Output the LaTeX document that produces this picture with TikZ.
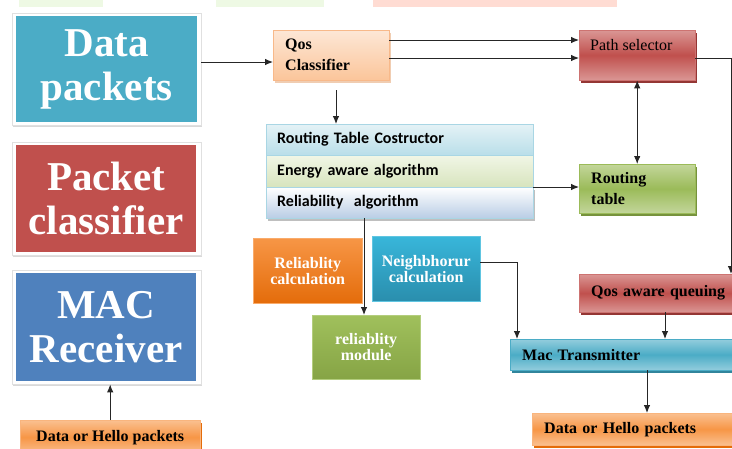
\documentclass[tikz,border=0pt]{standalone}
\usepackage{fontspec}
\setmainfont{Liberation Serif}
\newfontfamily\carl{Carlito}
\usetikzlibrary{shadows,arrows.meta}
\definecolor{tealA}{HTML}{4BACC6}
\definecolor{tealL}{HTML}{93CDDD}
\definecolor{tealD}{HTML}{31859C}
\definecolor{redA}{HTML}{C0504D}
\definecolor{redL}{HTML}{DA9694}
\definecolor{redD}{HTML}{943634}
\definecolor{blueA}{HTML}{4F81BD}
\definecolor{grnA}{HTML}{9BBB59}
\definecolor{grnL}{HTML}{C3D69B}
\definecolor{grnD}{HTML}{76923C}
\definecolor{orgA}{HTML}{F79646}
\definecolor{orgL}{HTML}{FAC090}
\definecolor{orgD}{HTML}{E46C0A}
\definecolor{qcT}{HTML}{FDE7D6}
\definecolor{qcB}{HTML}{FBC59A}
\definecolor{qcE}{HTML}{F8B98A}
\definecolor{qcS}{HTML}{F0CDB2}
\definecolor{nbT}{HTML}{38B6DA}
\definecolor{nbB}{HTML}{2A8EAD}
\definecolor{rmT}{HTML}{A0C05C}
\definecolor{rmB}{HTML}{86A445}
\definecolor{r1T}{HTML}{E4F2F6}
\definecolor{r1B}{HTML}{B9DEE9}
\definecolor{r2T}{HTML}{F1F6E6}
\definecolor{r2B}{HTML}{D7E4BD}
\definecolor{r3B}{HTML}{B9CDE5}
\definecolor{stE}{HTML}{A9D6E4}
\definecolor{lineC}{HTML}{262626}
\definecolor{bandG}{HTML}{EEF9E4}
\definecolor{bandP}{HTML}{FFDCD3}
\begin{document}
\begin{tikzpicture}[x=1pt,y=-1pt,
  frame/.style={draw=black!12, fill=white, anchor=north west, inner sep=0pt,
    drop shadow={opacity=0.3, shadow xshift=1pt, shadow yshift=-2pt}},
  bigbox/.style={anchor=north west, inner sep=0pt, text=white, align=center,
    font=\fontsize{41}{44}\selectfont\bfseries},
  lbl/.style={font=\fontsize{16}{21}\selectfont\bfseries},
  lbox/.style={anchor=north west, inner xsep=12pt, inner ysep=0pt, align=left, lbl},
  wbox/.style={anchor=north west, inner sep=0pt, align=center, text=white,
    font=\fontsize{16}{16}\selectfont\bfseries},
  srow/.style={anchor=north west, inner xsep=11pt, inner ysep=0pt, align=left,
    draw=stE, minimum width=267pt, text width=245pt,
    font=\carl\fontsize{16}{18}\selectfont\bfseries},
  arr/.style={draw=lineC, line width=0.9pt, -{Latex[length=8pt,width=6.5pt]}},
  ln/.style={draw=lineC, line width=0.9pt},
  hshadow/.style={general shadow={fill=#1, shadow xshift=2pt, shadow yshift=-2.5pt}}
]
\useasboundingbox (0,0) rectangle (732,448);

% faint bands at the top edge
\fill[bandG] (19,0) rectangle (103,7);
\fill[bandG] (216,0) rectangle (324,7);
\fill[bandP] (373,0) rectangle (617,7);

% left column
\node[frame, minimum width=189pt, minimum height=112pt] (dpf) at (12,13) {};
\node[bigbox, fill=tealA, minimum width=181pt, minimum height=106pt] (dp) at (16,16) {Data\\packets};
\node[frame, minimum width=189pt, minimum height=113pt] (pcf) at (12,142) {};
\node[bigbox, fill=redA, minimum width=180pt, minimum height=107pt] (pc) at (16,145) {Packet\\classifier};
\node[frame, minimum width=189pt, minimum height=114pt] (mrf) at (12,270) {};
\node[bigbox, fill=blueA, minimum width=180pt, minimum height=108pt] (mr) at (16,273) {MAC\\Receiver};

\node[anchor=north west, inner sep=0pt, lbl, align=center, minimum width=180pt, minimum height=34pt,
  top color=orgL, bottom color=orgL, middle color=orgA, draw=orgA!70, hshadow=orgD] (dhl) at (20,420) {Data or Hello packets};

% top row
\node[lbox, minimum width=116pt, minimum height=50pt, text width=92pt,
  top color=qcT, bottom color=qcB, draw=qcE, hshadow=qcS] (qc) at (273,30) {Qos\\Classifier};
\node[anchor=north west, inner sep=0pt, minimum width=116pt, minimum height=50pt,
  top color=redL, bottom color=redL, middle color=redA, draw=redA!80, hshadow=redD] (ps) at (579,30) {};
\node[anchor=west, inner sep=0pt, font=\fontsize{16}{20}\selectfont] (pst) at (590,45) {Path selector};

% routing table constructor stack
\node[srow, minimum height=31pt, top color=r1T, bottom color=r1B] (r1) at (266,124) {Routing Table Costructor};
\node[srow, minimum height=32pt, top color=r2T, bottom color=r2B] (r2) at (266,155) {Energy aware algorithm};
\node[srow, minimum height=31pt, top color=white, bottom color=r3B, hshadow=black!25] (r3) at (266,187) {Reliability\ \ algorithm};

\node[lbox, minimum width=116pt, minimum height=49pt, text width=92pt,
  top color=grnL, bottom color=grnL, middle color=grnA, draw=grnA, hshadow=grnD] (rt) at (579,164) {Routing\\table};

% middle blocks
\node[wbox, minimum width=109pt, minimum height=65pt, top color=orgA, bottom color=orgD, draw=orgA!80] (rc) at (253,238) {Reliablity\\calculation};
\node[wbox, minimum width=108pt, minimum height=65pt, top color=nbT, bottom color=nbB, draw=nbT!80] (nc) at (372,236) {Neighbhorur\\calculation};
\node[wbox, minimum width=108pt, minimum height=64pt, top color=rmT, bottom color=rmB, draw=rmT!80] (rm) at (312,315) {reliablity\\module};

% right column
\node[lbox, minimum width=160pt, minimum height=38pt, text width=136pt,
  top color=redL, bottom color=redL, middle color=redA, draw=redA!80, hshadow=redD] (qq) at (579,274) {Qos aware queuing};
\node[lbox, minimum width=228pt, minimum height=31pt, text width=204pt,
  top color=tealL, bottom color=tealL, middle color=tealA, draw=tealA, hshadow=tealD] (mt) at (510,339) {Mac Transmitter};
\node[lbox, minimum width=206pt, minimum height=32pt, text width=182pt,
  top color=orgL, bottom color=orgL, middle color=orgA, draw=orgA!70, hshadow=orgD] (dhr) at (532,413) {Data or Hello packets};

% helper coordinates
\coordinate (ya) at (0,62);
\coordinate (yb) at (0,40);
\coordinate (yc) at (0,58);
\coordinate (qa) at (336,90);
\coordinate (pr) at (731,58);
\coordinate (nr) at (517,262);
\coordinate (xq) at (665,0);
\coordinate (xm) at (647,0);
\coordinate (xr) at (364,0);

% connectors
\draw[arr] (dpf.east |- ya) -- (qc.west |- ya);
\draw[arr] (qc.east |- yb) -- (ps.west |- yb);
\draw[arr] (qc.east |- yc) -- (ps.west |- yc);
\draw[arr] (qa) -- (qa |- r1.north);
\draw[arr, {Latex[length=8pt,width=6.5pt]}-{Latex[length=8pt,width=6.5pt]}] (ps.south) -- (rt.north);
\draw[arr] (r3.north east) -- (r3.north east -| rt.west);
\draw[ln] (ps.east |- pr) -- (pr);
\draw[arr] (pr) -- (pr |- qq.north);
\draw[arr] (xr |- r3.south) -- (xr |- rm.north);
\draw[ln] (nc.east |- nr) -- (nr);
\draw[arr] (nr) -- (nr |- mt.north);
\draw[arr] (xq |- qq.south) -- (xq |- mt.north);
\draw[arr] (xm |- mt.south) -- (xm |- dhr.north);
\draw[arr] (dhl.north) -- (dhl.north |- mrf.south);
\end{tikzpicture}
\end{document}
